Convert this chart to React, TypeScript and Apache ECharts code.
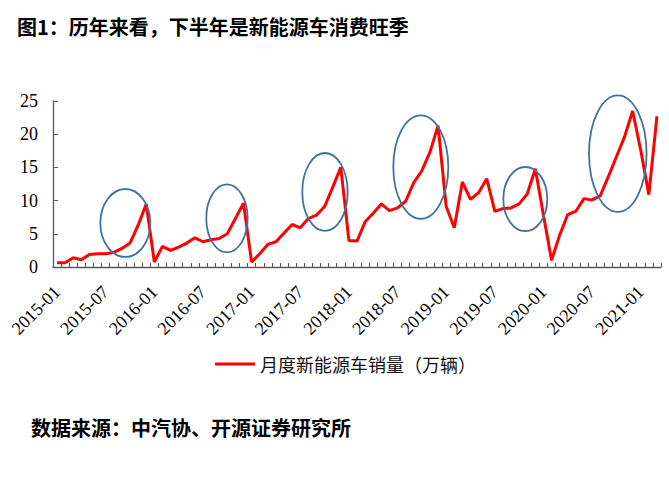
import React, { useEffect, useRef } from "react";
import * as echarts from "echarts";

const categories: string[] = [
  "2015-01", "2015-02", "2015-03", "2015-04", "2015-05", "2015-06", "2015-07", "2015-08", "2015-09", "2015-10", "2015-11", "2015-12",
  "2016-01", "2016-02", "2016-03", "2016-04", "2016-05", "2016-06", "2016-07", "2016-08", "2016-09", "2016-10", "2016-11", "2016-12",
  "2017-01", "2017-02", "2017-03", "2017-04", "2017-05", "2017-06", "2017-07", "2017-08", "2017-09", "2017-10", "2017-11", "2017-12",
  "2018-01", "2018-02", "2018-03", "2018-04", "2018-05", "2018-06", "2018-07", "2018-08", "2018-09", "2018-10", "2018-11", "2018-12",
  "2019-01", "2019-02", "2019-03", "2019-04", "2019-05", "2019-06", "2019-07", "2019-08", "2019-09", "2019-10", "2019-11", "2019-12",
  "2020-01", "2020-02", "2020-03", "2020-04", "2020-05", "2020-06", "2020-07", "2020-08", "2020-09", "2020-10", "2020-11", "2020-12",
  "2021-01", "2021-02", "2021-03",
];

// 月度新能源车销量（万辆）
const monthlySales: number[] = [
  0.65, 0.65, 1.4, 1.1, 1.9, 2.0, 2.0, 2.2, 2.8, 3.6, 6.3, 9.5,
  0.75, 3.1, 2.5, 3.0, 3.6, 4.4, 3.8, 4.1, 4.3, 5.0, 7.3, 9.6,
  0.75, 2.0, 3.4, 3.8, 5.1, 6.4, 5.9, 7.3, 7.8, 9.1, 12.0, 15.0,
  4.0, 3.9, 6.8, 8.1, 9.5, 8.5, 8.9, 9.9, 12.7, 14.5, 17.3, 21.3,
  9.1, 5.9, 12.8, 10.2, 11.2, 13.3, 8.4, 8.8, 8.9, 9.5, 11.0, 14.8,
  7.8, 1.0, 4.8, 7.9, 8.4, 10.3, 10.1, 10.7, 13.6, 16.6, 19.6, 23.5,
  17.6, 10.9, 22.7,
];

const seriesName = "月度新能源车销量（万辆）";
const titleText = "图1：历年来看，下半年是新能源车消费旺季";
const sourceText = "数据来源：中汽协、开源证券研究所";

const yMin = 0;
const yMax = 25;
const yInterval = 5;

// Highlight ellipses, in data units: centre month index, centre value, radius in months, radius in value
const hlCenterIdx = [8.42, 20.96, 33.05, 44.87, 57.76, 69.17];
const hlCenterVal = [6.63, 7.33, 11.3, 15.06, 10.24, 17.08];
const hlRadiusMonths = [3.08, 2.55, 2.8, 3.39, 2.71, 3.55];
const hlRadiusVal = [5.12, 5.12, 5.87, 7.79, 4.82, 8.78];

const serif = "'Liberation Serif', 'Times New Roman', serif";
const cjk = "'Noto Sans CJK SC', sans-serif";

export default function App() {
  const ref = useRef<HTMLDivElement>(null);

  useEffect(() => {
    if (!ref.current) return;
    const chart = echarts.init(ref.current, undefined, { renderer: "svg" });
    chart.setOption({
      animation: false,
      backgroundColor: "#ffffff",
      title: [
        {
          text: titleText,
          left: 17,
          top: 16,
          padding: 0,
          textStyle: { fontSize: 20, fontWeight: "bold", fontFamily: cjk, color: "#000" },
        },
        {
          text: sourceText,
          left: 31,
          top: 417,
          padding: 0,
          textStyle: { fontSize: 20, fontWeight: "bold", fontFamily: cjk, color: "#000" },
        },
      ],
      legend: {
        left: 215,
        top: 354,
        padding: 0,
        icon: "rect",
        itemWidth: 40,
        itemHeight: 3,
        textStyle: { fontSize: 18, fontFamily: cjk, color: "#111", lineHeight: 20 },
        data: [seriesName],
      },
      grid: { left: 53, right: 8, top: 101, bottom: 214, containLabel: false },
      xAxis: {
        type: "category",
        data: categories,
        boundaryGap: true,
        axisLine: { show: true, lineStyle: { color: "#595959", width: 1.3 } },
        axisTick: { show: true, inside: true, interval: 0, length: 4, lineStyle: { color: "#595959" } },
        axisLabel: {
          interval: 5,
          rotate: 45,
          margin: 22,
          fontSize: 18,
          fontFamily: serif,
          color: "#000",
        },
        splitLine: { show: false },
      },
      yAxis: {
        type: "value",
        min: yMin,
        max: yMax,
        interval: yInterval,
        axisLine: { show: true, lineStyle: { color: "#595959", width: 1.3 } },
        axisTick: { show: true, inside: true, length: 5, lineStyle: { color: "#595959" } },
        axisLabel: { margin: 15, fontSize: 18, fontFamily: serif, color: "#000" },
        splitLine: { show: false },
      },
      series: [
        {
          name: seriesName,
          type: "line",
          data: monthlySales,
          symbol: "none",
          lineStyle: { color: "#ff0000", width: 3 },
          itemStyle: { color: "#ff0000" },
          z: 2,
        },
      ],
    });

    const p0 = chart.convertToPixel({ xAxisIndex: 0, yAxisIndex: 0 }, [0, 0]) as number[];
    const p1 = chart.convertToPixel({ xAxisIndex: 0, yAxisIndex: 0 }, [1, yInterval]) as number[];
    const pxPerMonth = p1[0] - p0[0];
    const pxPerUnit = (p0[1] - p1[1]) / yInterval;
    const ellipses = hlCenterIdx.map((ci, k) => ({
      type: "ellipse",
      silent: true,
      z: 10,
      shape: {
        cx: p0[0] + ci * pxPerMonth,
        cy: p0[1] - hlCenterVal[k] * pxPerUnit,
        rx: hlRadiusMonths[k] * pxPerMonth,
        ry: hlRadiusVal[k] * pxPerUnit,
      },
      style: { fill: "transparent", stroke: "#41719c", lineWidth: 1.8 },
    }));
    chart.setOption({ graphic: ellipses });

    return () => chart.dispose();
  }, []);

  return (
    <div
      ref={ref}
      style={{ position: "fixed", left: 0, top: 0, width: 669, height: 481, background: "#fff" }}
    />
  );
}
